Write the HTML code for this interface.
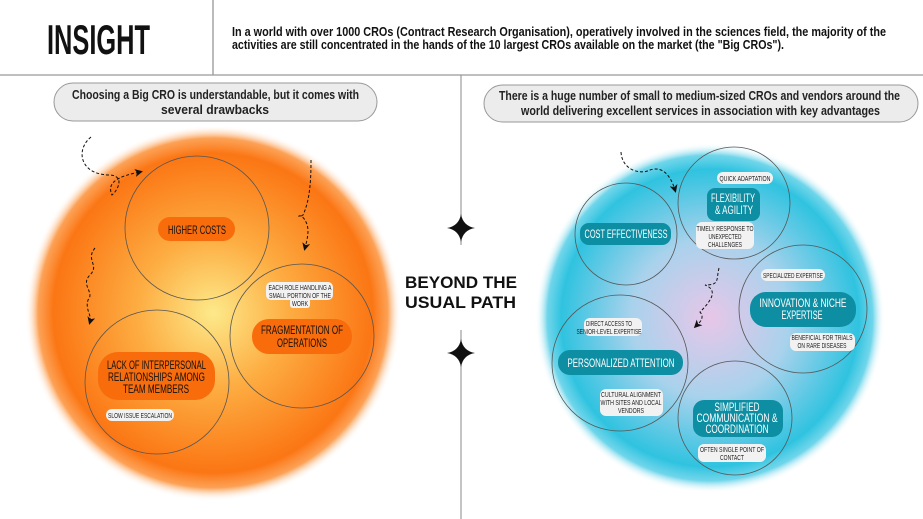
<!DOCTYPE html>
<html><head><meta charset="utf-8"><style>
html,body{margin:0;padding:0;background:#fff;}
svg{display:block;}
text{font-family:"Liberation Sans Narrow","Liberation Sans",sans-serif;}
</style></head><body>
<svg width="923" height="519" viewBox="0 0 923 519" xmlns="http://www.w3.org/2000/svg">
<defs>
<radialGradient id="og" cx="0.5" cy="0.5" r="0.5">
<stop offset="0" stop-color="#fde98a"/>
<stop offset="0.4" stop-color="#fdad42"/>
<stop offset="0.85" stop-color="#fb7614"/>
<stop offset="0.93" stop-color="#fc8a2c" stop-opacity="0.8"/>
<stop offset="1" stop-color="#fff" stop-opacity="0"/>
</radialGradient>
<radialGradient id="bg" cx="0.5" cy="0.5" r="0.5">
<stop offset="0" stop-color="#e8c6e8"/>
<stop offset="0.45" stop-color="#a9d2ec"/>
<stop offset="0.85" stop-color="#2fc3e0"/>
<stop offset="0.93" stop-color="#4ccbe5" stop-opacity="0.8"/>
<stop offset="1" stop-color="#fff" stop-opacity="0"/>
</radialGradient>
<marker id="ah" markerWidth="8" markerHeight="8" refX="5" refY="4" orient="auto"><path d="M0,0 L8,4 L0,8 L2,4z" fill="#111"/></marker>
</defs>

<!-- header -->
<line x1="213" y1="0" x2="213" y2="75" stroke="#777" stroke-width="1"/>
<line x1="0" y1="75" x2="923" y2="75" stroke="#999" stroke-width="1.2"/>
<text x="47" y="54" font-size="42" font-weight="bold" fill="#111" textLength="103" lengthAdjust="spacingAndGlyphs">INSIGHT</text>
<text x="232" y="36" font-size="12.5" font-weight="bold" fill="#111" textLength="654" lengthAdjust="spacingAndGlyphs">In a world with over 1000 CROs (Contract Research Organisation), operatively involved in the sciences field, the majority of the</text>
<text x="232" y="49" font-size="12.5" font-weight="bold" fill="#111" textLength="552" lengthAdjust="spacingAndGlyphs">activities are still concentrated in the hands of the 10 largest CROs available on the market (the "Big CROs").</text>

<!-- center line + stars -->
<line x1="461" y1="75" x2="461" y2="245" stroke="#888"/>
<line x1="461" y1="330" x2="461" y2="519" stroke="#888"/>
<path d="M461,214 Q463,226 475,228 Q463,230 461,242 Q459,230 447,228 Q459,226 461,214z" fill="#111"/>
<path d="M461,339 Q463,351 475,353 Q463,355 461,367 Q459,355 447,353 Q459,351 461,339z" fill="#111"/>
<rect x="400" y="268" width="122" height="46" fill="#fff"/>
<text x="405" y="288" font-size="17" font-weight="bold" fill="#111" textLength="112" lengthAdjust="spacingAndGlyphs">BEYOND THE</text>
<text x="405" y="308" font-size="17" font-weight="bold" fill="#111" textLength="111" lengthAdjust="spacingAndGlyphs">USUAL PATH</text>

<!-- pills -->
<rect x="54" y="83" width="323" height="38" rx="19" fill="#ececec" stroke="#999"/>
<text x="72" y="99" font-size="13" font-weight="bold" fill="#222" textLength="287" lengthAdjust="spacingAndGlyphs">Choosing a Big CRO is understandable, but it comes with</text>
<text x="161" y="114" font-size="13" font-weight="bold" fill="#222" textLength="108" lengthAdjust="spacingAndGlyphs">several drawbacks</text>
<rect x="484" y="85" width="434" height="37" rx="18.5" fill="#ececec" stroke="#999"/>
<text x="499" y="100" font-size="13" font-weight="bold" fill="#222" textLength="401" lengthAdjust="spacingAndGlyphs">There is a huge number of small to medium-sized CROs and vendors around the</text>
<text x="521" y="115" font-size="13" font-weight="bold" fill="#222" textLength="359" lengthAdjust="spacingAndGlyphs">world delivering excellent services in association with key advantages</text>

<!-- orange -->
<circle cx="213" cy="313" r="188" fill="url(#og)"/>
<g fill="none" stroke="#555" stroke-width="0.8">
<circle cx="197" cy="228" r="72"/>
<circle cx="302" cy="336" r="72"/>
<circle cx="157" cy="382" r="72"/>
</g>
<g fill="none" stroke="#111" stroke-width="1" stroke-dasharray="3,2">
<path d="M91,137 C75,150 80,175 110,175 C125,176 118,190 112,195 C105,180 125,175 140,172" marker-end="url(#ah)"/>
<path d="M311,160 C311,180 310,200 303,215 C295,220 300,210 306,222 C310,230 307,240 305,248" marker-end="url(#ah)"/>
<path d="M95,248 C85,260 100,265 90,275 C80,285 95,292 88,300 C85,310 92,315 90,322" marker-end="url(#ah)"/>
</g>
<rect x="158" y="217" width="77" height="24" rx="12" fill="#f86c0c"/>
<text x="168" y="234" font-size="12" fill="#111" textLength="58" lengthAdjust="spacingAndGlyphs">HIGHER COSTS</text>
<rect x="252" y="319" width="100" height="35" rx="17" fill="#f86c0c"/>
<text x="261" y="334" font-size="12" fill="#111" textLength="82" lengthAdjust="spacingAndGlyphs">FRAGMENTATION OF</text>
<text x="277" y="347" font-size="12" fill="#111" textLength="50" lengthAdjust="spacingAndGlyphs">OPERATIONS</text>
<rect x="98" y="352" width="117" height="48" rx="20" fill="#f86c0c"/>
<text x="107" y="369" font-size="12" fill="#111" textLength="99" lengthAdjust="spacingAndGlyphs">LACK OF INTERPERSONAL</text>
<text x="108" y="381" font-size="12" fill="#111" textLength="97" lengthAdjust="spacingAndGlyphs">RELATIONSHIPS AMONG</text>
<text x="123" y="393" font-size="12" fill="#111" textLength="66" lengthAdjust="spacingAndGlyphs">TEAM MEMBERS</text>
<rect x="266" y="282" width="67" height="18" rx="5" fill="#f2f2f2"/>
<rect x="290" y="298" width="20" height="10" rx="3" fill="#f2f2f2"/>
<g font-size="7.3" fill="#222" text-anchor="middle">
<text x="300" y="290" textLength="63" lengthAdjust="spacingAndGlyphs">EACH ROLE HANDLING A</text>
<text x="300" y="298" textLength="62" lengthAdjust="spacingAndGlyphs">SMALL PORTION OF THE</text>
<text x="300" y="306" textLength="16" lengthAdjust="spacingAndGlyphs">WORK</text>
</g>
<rect x="106" y="409" width="68" height="12" rx="6" fill="#f2f2f2"/>
<text x="140" y="418" text-anchor="middle" font-size="7.3" fill="#222" textLength="64" lengthAdjust="spacingAndGlyphs">SLOW ISSUE ESCALATION</text>

<!-- blue -->
<circle cx="710" cy="318" r="175" fill="url(#bg)"/>
<g fill="none" stroke="#555" stroke-width="0.8">
<circle cx="626" cy="234" r="51"/>
<circle cx="734" cy="203" r="56"/>
<circle cx="803" cy="309" r="64"/>
<circle cx="620" cy="363" r="68"/>
<circle cx="735" cy="418" r="57"/>
</g>
<g fill="none" stroke="#111" stroke-width="1" stroke-dasharray="3,2">
<path d="M621,152 C622,170 640,175 650,170 C665,165 672,180 675,190" marker-end="url(#ah)"/>
<path d="M719,268 C716,280 720,285 705,285 C718,290 712,300 700,312 C705,318 700,322 696,326" marker-end="url(#ah)"/>
</g>
<g fill="#0d8ea3">
<rect x="580" y="223" width="91" height="22" rx="9"/>
<rect x="707" y="188" width="53" height="33" rx="8"/>
<rect x="750" y="292" width="106" height="35" rx="16"/>
<rect x="558" y="350" width="125" height="25" rx="12"/>
<rect x="693" y="400" width="90" height="37" rx="11"/>
</g>
<g fill="#fff" font-size="12" text-anchor="middle">
<text x="626" y="238" textLength="83" lengthAdjust="spacingAndGlyphs">COST EFFECTIVENESS</text>
<text x="733" y="202" textLength="44" lengthAdjust="spacingAndGlyphs">FLEXIBILITY</text>
<text x="734" y="214" textLength="38" lengthAdjust="spacingAndGlyphs">&amp; AGILITY</text>
<text x="803" y="307" textLength="87" lengthAdjust="spacingAndGlyphs">INNOVATION &amp; NICHE</text>
<text x="802" y="319" textLength="41" lengthAdjust="spacingAndGlyphs">EXPERTISE</text>
<text x="621" y="367" textLength="107" lengthAdjust="spacingAndGlyphs">PERSONALIZED ATTENTION</text>
<text x="737" y="411" textLength="45" lengthAdjust="spacingAndGlyphs">SIMPLIFIED</text>
<text x="737" y="422" textLength="81" lengthAdjust="spacingAndGlyphs">COMMUNICATION &amp;</text>
<text x="737" y="433" textLength="63" lengthAdjust="spacingAndGlyphs">COORDINATION</text>
</g>
<g fill="#f2f2f2">
<rect x="717" y="172" width="56" height="12" rx="6"/>
<rect x="696" y="222" width="58" height="27" rx="6"/>
<rect x="761" y="269" width="64" height="12" rx="6"/>
<rect x="790" y="333" width="65" height="18" rx="6"/>
<rect x="584" y="318" width="58" height="18" rx="6"/>
<rect x="600" y="389" width="63" height="27" rx="6"/>
<rect x="698" y="444" width="68" height="18" rx="6"/>
</g>
<g fill="#222" font-size="7.3" text-anchor="middle">
<text x="745" y="181" textLength="51" lengthAdjust="spacingAndGlyphs">QUICK ADAPTATION</text>
<text x="725" y="231" textLength="57" lengthAdjust="spacingAndGlyphs">TIMELY RESPONSE TO</text>
<text x="725" y="239" textLength="33" lengthAdjust="spacingAndGlyphs">UNEXPECTED</text>
<text x="725" y="247" textLength="34" lengthAdjust="spacingAndGlyphs">CHALLENGES</text>
<text x="793" y="278" textLength="60" lengthAdjust="spacingAndGlyphs">SPECIALIZED EXPERTISE</text>
<text x="822" y="340" textLength="61" lengthAdjust="spacingAndGlyphs">BENEFICIAL FOR TRIALS</text>
<text x="822" y="348" textLength="49" lengthAdjust="spacingAndGlyphs">ON RARE DISEASES</text>
<text x="609" y="326" textLength="46" lengthAdjust="spacingAndGlyphs">DIRECT ACCESS TO</text>
<text x="609" y="334" textLength="65" lengthAdjust="spacingAndGlyphs">SENIOR-LEVEL EXPERTISE</text>
<text x="631" y="397" textLength="60" lengthAdjust="spacingAndGlyphs">CULTURAL ALIGNMENT</text>
<text x="631" y="405" textLength="61" lengthAdjust="spacingAndGlyphs">WITH SITES AND LOCAL</text>
<text x="631" y="413" textLength="26" lengthAdjust="spacingAndGlyphs">VENDORS</text>
<text x="732" y="452" textLength="64" lengthAdjust="spacingAndGlyphs">OFTEN SINGLE POINT OF</text>
<text x="732" y="460" textLength="24" lengthAdjust="spacingAndGlyphs">CONTACT</text>
</g>
</svg>
</body></html>
